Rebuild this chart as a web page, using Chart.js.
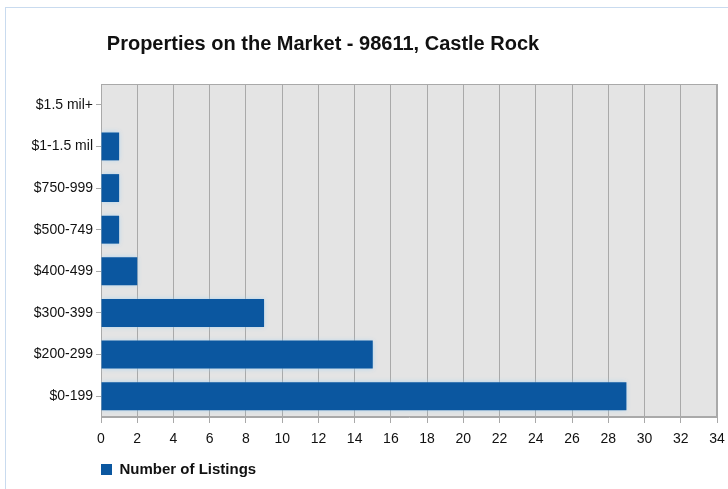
<!DOCTYPE html>
<html lang="en">
<head>
<meta charset="UTF-8" />
<title>Properties on the Market - 98611, Castle Rock</title>
<script src="https://cdn.jsdelivr.net/npm/chart.js@4.4.1/dist/chart.umd.min.js"></script>
<style>
  * { box-sizing: border-box; }
  body { margin: 0; background: #fff; }
  .frame { position: absolute; left: 5px; top: 7px; width: 723px; height: 482px; border-top: 1px solid #c9dbef; border-left: 1px solid #c9dbef; }
  .wrap { position: absolute; left: 0; top: 0; width: 728px; height: 489px; }
</style>
</head>
<body>
<div class="frame"></div>
<div class="wrap"><canvas id="chart" width="728" height="489"></canvas></div>
<script>
  const categories = ['$1.5 mil+', '$1-1.5 mil', '$750-999', '$500-749', '$400-499', '$300-399', '$200-299', '$0-199'];
  const listings = [0, 1, 1, 1, 2, 9, 15, 29];
  const seriesName = 'Number of Listings';
  const chartTitle = 'Properties on the Market - 98611, Castle Rock';

  const narrow = '"Liberation Sans Narrow", "Arial Narrow", "Liberation Sans", Arial, sans-serif';

  // title is off-centre in the original, so draw it ourselves
  const titlePlugin = {
    id: 'offTitle',
    afterDraw(chart) {
      const ctx = chart.ctx;
      ctx.save();
      ctx.font = 'bold 20px ' + narrow;
      ctx.fillStyle = '#111';
      ctx.textAlign = 'center';
      ctx.textBaseline = 'middle';
      ctx.fillText(chartTitle, 323, 44);
      ctx.restore();
    }
  };

  // grey plot area with a thin frame, soft blue halo around the bars
  const plotPlugin = {
    id: 'plotBg',
    beforeDraw(chart) {
      const a = chart.chartArea, ctx = chart.ctx;
      ctx.save();
      ctx.fillStyle = '#e4e4e4';
      ctx.fillRect(a.left, a.top, a.right - a.left, a.bottom - a.top);
      ctx.strokeStyle = '#a9a9a9';
      ctx.lineWidth = 1;
      ctx.strokeRect(a.left + 0.5, a.top + 0.5, a.right - a.left - 1, a.bottom - a.top - 1);
      ctx.restore();
    },
    beforeDatasetsDraw(chart) {
      const ctx = chart.ctx;
      ctx.save();
      ctx.shadowColor = 'rgba(160, 210, 245, 0.9)';
      ctx.shadowBlur = 5;
    },
    afterDatasetsDraw(chart) {
      chart.ctx.restore();
    }
  };

  new Chart(document.getElementById('chart'), {
    type: 'bar',
    data: {
      labels: categories,
      datasets: [{
        label: seriesName,
        data: listings,
        backgroundColor: '#0b57a0',
        borderColor: '#0b57a0',
        borderWidth: 0,
        barPercentage: 0.67,
        categoryPercentage: 1
      }]
    },
    options: {
      indexAxis: 'y',
      responsive: false,
      animation: false,
      layout: { padding: { left: 0, right: 11, top: 84, bottom: 2 } },
      plugins: {
        title: { display: false },
        tooltip: { enabled: false },
        legend: {
          position: 'bottom',
          align: 'start',
          fullSize: false,
          labels: {
            boxWidth: 11,
            boxHeight: 11,
            padding: 0,
            color: '#111',
            font: { family: '"Liberation Sans", Arial, sans-serif', size: 15, weight: 'bold' }
          }
        }
      },
      scales: {
        x: {
          min: 0,
          max: 34,
          ticks: { stepSize: 2, color: '#111', padding: 8, font: { family: narrow, size: 14 } },
          grid: { color: '#a9a9a9', tickColor: '#a9a9a9', tickLength: 6, drawOnChartArea: true },
          border: { color: '#a9a9a9' },
          afterFit(scale) { scale.height = 45; scale.paddingRight = 0; }
        },
        y: {
          ticks: { color: '#111', padding: 3, font: { family: narrow, size: 14 } },
          grid: { drawOnChartArea: false, tickColor: '#a9a9a9', tickLength: 5, offset: false },
          border: { color: '#a9a9a9' },
          afterFit(scale) { scale.width = 101; }
        }
      }
    },
    plugins: [titlePlugin, plotPlugin]
  });
</script>
</body>
</html>
